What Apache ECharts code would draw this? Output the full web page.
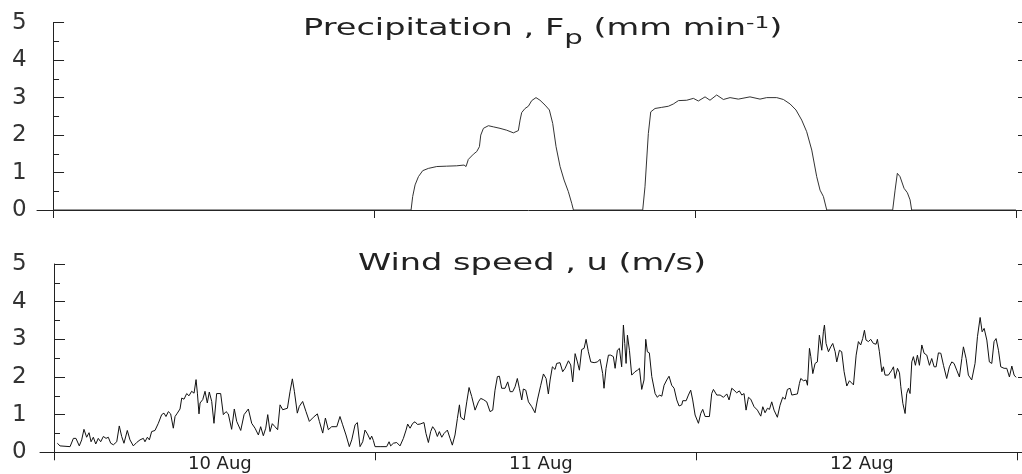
<!DOCTYPE html>
<html><head><meta charset="utf-8">
<script src="https://cdn.jsdelivr.net/npm/echarts@6/dist/echarts.min.js"></script>
<style>html,body{margin:0;padding:0;background:#fff}#c{width:1022px;height:474px}</style>
</head><body><div id="c"></div>
<script>
// ---------- data (hours since 10 Aug 00:00) ----------
const dayLabels = ['10 Aug', '11 Aug', '12 Aug'];
const yTickValues = [0, 1, 2, 3, 4, 5];

const precipHours = [0, 26.77, 26.89, 27.07, 27.32, 27.64, 28.06, 28.69, 29.43, 30.18,
  30.73, 30.88, 31.05, 31.43, 31.68, 31.88, 31.98, 32.18, 32.55, 32.92,
  33.42, 33.92, 34.42, 34.79, 34.92, 35.04, 35.29, 35.54, 35.79, 36.11,
  36.41, 36.79, 37.11, 37.36, 37.61, 37.91, 38.21, 38.53, 38.78, 38.91,
  44.09, 44.26, 44.51, 44.69, 45.01, 45.51, 46.01, 46.38, 46.76, 47.38,
  47.88, 48.25, 48.75, 49.12, 49.62, 50.12, 50.62, 51.24, 52.11, 52.86,
  53.36, 54.11, 54.61, 55.11, 55.55, 55.98, 56.35, 56.73, 57.10, 57.35,
  57.60, 57.85, 62.78, 62.96, 63.13, 63.33, 63.63, 63.88, 64.08, 64.20, 72.0];
const precipRate = [0, 0, 0.36, 0.67, 0.89, 1.05, 1.11, 1.16, 1.17, 1.18,
  1.2, 1.16, 1.35, 1.49, 1.56, 1.69, 2.0, 2.18, 2.25, 2.22,
  2.18, 2.13, 2.06, 2.12, 2.4, 2.6, 2.71, 2.77, 2.92, 3.0,
  2.93, 2.8, 2.67, 2.31, 1.69, 1.16, 0.8, 0.49, 0.18, 0,
  0, 0.62, 2.04, 2.62, 2.71, 2.74, 2.77, 2.83, 2.92, 2.93,
  2.98, 2.91, 3.02, 2.93, 3.07, 2.95, 3.0, 2.96, 3.02, 2.96,
  3.0, 3.0, 2.95, 2.83, 2.67, 2.4, 2.09, 1.6, 0.89, 0.53,
  0.36, 0, 0, 0.53, 0.98, 0.89, 0.58, 0.46, 0.27, 0, 0];

const windHours = [0.25, 0.45, 1.20, 1.45, 1.64, 1.89, 2.07, 2.24, 2.44, 2.62,
  2.77, 2.94, 3.12, 3.31, 3.49, 3.69, 3.89, 4.06, 4.24, 4.44,
  4.69, 4.88, 5.06, 5.23, 5.48, 5.68, 5.93, 6.18, 6.43, 6.68,
  6.80, 6.98, 7.13, 7.30, 7.55, 7.80, 8.05, 8.22, 8.37, 8.55,
  8.72, 8.92, 9.05, 9.22, 9.42, 9.55, 9.72, 9.92, 10.09, 10.29,
  10.47, 10.62, 10.72, 10.84, 10.92, 11.12, 11.29, 11.46, 11.61, 11.79,
  11.96, 12.16, 12.46, 12.66, 12.86, 13.03, 13.28, 13.48, 13.66, 13.96,
  14.21, 14.53, 14.78, 15.03, 15.28, 15.45, 15.65, 15.83, 15.98, 16.15,
  16.32, 16.52, 16.72, 16.90, 17.10, 17.45, 17.65, 17.82, 17.97, 18.19,
  18.34, 18.59, 18.84, 19.09, 19.39, 19.69, 19.84, 20.09, 20.29, 20.51,
  20.76, 21.14, 21.38, 21.58, 21.83, 22.08, 22.26, 22.51, 22.68, 22.88,
  23.08, 23.25, 23.43, 23.63, 23.75, 23.88, 24.00, 24.38, 24.87, 25.05,
  25.17, 25.37, 25.62, 25.87, 26.12, 26.32, 26.44, 26.62, 26.82, 26.99,
  27.17, 27.37, 27.66, 27.81, 27.99, 28.16, 28.31, 28.49, 28.66, 28.81,
  28.99, 29.16, 29.41, 29.61, 29.78, 29.98, 30.16, 30.31, 30.41, 30.66,
  30.86, 31.03, 31.23, 31.48, 31.73, 31.90, 32.10, 32.35, 32.60, 32.80,
  32.97, 33.15, 33.30, 33.47, 33.72, 33.92, 34.10, 34.29, 34.47, 34.64,
  34.79, 34.97, 35.09, 35.27, 35.47, 35.72, 35.96, 36.14, 36.39, 36.59,
  36.79, 36.96, 37.09, 37.26, 37.46, 37.58, 37.83, 38.03, 38.21, 38.46,
  38.63, 38.78, 38.96, 39.13, 39.28, 39.45, 39.63, 39.78, 39.95, 40.13,
  40.38, 40.63, 40.82, 41.02, 41.12, 41.27, 41.45, 41.62, 41.82, 41.95,
  42.12, 42.27, 42.44, 42.57, 42.67, 42.77, 42.87, 43.02, 43.19, 43.44,
  43.62, 43.77, 43.94, 44.11, 44.24, 44.36, 44.51, 44.69, 44.94, 45.11,
  45.26, 45.44, 45.61, 45.81, 45.98, 46.18, 46.36, 46.56, 46.73, 46.93,
  47.01, 47.26, 47.43, 47.60, 47.75, 47.93, 48.18, 48.35, 48.50, 48.68,
  49.00, 49.17, 49.30, 49.55, 49.80, 50.05, 50.30, 50.47, 50.67, 50.84,
  51.04, 51.24, 51.42, 51.59, 51.74, 51.92, 52.09, 52.34, 52.59, 52.84,
  52.99, 53.16, 53.34, 53.49, 53.66, 53.83, 54.08, 54.28, 54.48, 54.66,
  54.83, 55.03, 55.16, 55.58, 55.73, 55.83, 56.03, 56.23, 56.33, 56.48,
  56.58, 56.73, 56.90, 57.07, 57.22, 57.40, 57.52, 57.60, 57.72, 57.90,
  58.07, 58.22, 58.40, 58.52, 58.72, 58.89, 59.07, 59.27, 59.47, 59.77,
  59.97, 60.14, 60.31, 60.46, 60.59, 60.71, 60.89, 61.06, 61.26, 61.46,
  61.56, 61.71, 61.89, 62.01, 62.13, 62.38, 62.63, 62.76, 62.88, 63.06,
  63.21, 63.31, 63.46, 63.63, 63.75, 63.88, 64.00, 64.13, 64.25, 64.40,
  64.55, 64.70, 64.88, 65.05, 65.25, 65.45, 65.62, 65.80, 65.95, 66.12,
  66.30, 66.50, 66.74, 66.94, 67.12, 67.29, 67.49, 67.69, 67.87, 67.99,
  68.19, 68.36, 68.61, 68.86, 69.04, 69.24, 69.39, 69.54, 69.74, 69.93,
  70.11, 70.28, 70.43, 70.61, 70.78, 71.03, 71.23, 71.43, 71.61, 71.78, 71.93];
const windSpeed = [0.24, 0.17, 0.15, 0.37, 0.37, 0.17, 0.33, 0.61, 0.4, 0.52,
  0.28, 0.4, 0.22, 0.37, 0.28, 0.42, 0.37, 0.4, 0.24, 0.2,
  0.28, 0.7, 0.42, 0.24, 0.58, 0.33, 0.17, 0.26, 0.33, 0.37,
  0.28, 0.4, 0.33, 0.55, 0.58, 0.77, 1.0, 1.04, 0.95, 1.08,
  1.02, 0.64, 0.95, 1.04, 1.15, 1.44, 1.41, 1.56, 1.5, 1.62,
  1.57, 1.93, 1.57, 1.02, 1.31, 1.4, 1.62, 1.31, 1.6, 1.35,
  0.77, 1.56, 1.56, 1.0, 1.08, 1.02, 0.61, 1.15, 0.82, 0.58,
  1.0, 1.15, 0.77, 0.64, 0.46, 0.68, 0.44, 0.64, 1.0, 0.55,
  0.76, 0.68, 0.6, 1.26, 1.13, 1.17, 1.62, 1.95, 1.62, 1.04,
  1.22, 1.35, 1.08, 0.82, 0.93, 1.02, 0.82, 0.51, 0.91, 0.6,
  0.68, 0.68, 0.95, 0.73, 0.46, 0.15, 0.33, 0.73, 0.79, 0.15,
  0.28, 0.59, 0.49, 0.34, 0.43, 0.31, 0.15, 0.15, 0.15, 0.28,
  0.17, 0.24, 0.26, 0.17, 0.37, 0.59, 0.75, 0.64, 0.77, 0.81,
  0.74, 0.75, 0.79, 0.5, 0.26, 0.55, 0.68, 0.59, 0.42, 0.55,
  0.4, 0.5, 0.59, 0.37, 0.19, 0.46, 0.9, 1.26, 0.93, 0.86,
  1.34, 1.72, 1.48, 1.12, 1.34, 1.43, 1.4, 1.34, 1.08, 1.12,
  1.65, 2.01, 2.02, 1.7, 1.7, 1.87, 1.61, 1.61, 1.74, 1.96,
  1.7, 1.39, 1.68, 1.65, 1.34, 1.21, 1.05, 1.39, 1.78, 2.08,
  1.96, 1.55, 1.92, 2.27, 2.2, 2.36, 2.38, 2.14, 2.23, 2.43,
  2.32, 1.87, 2.62, 2.4, 2.18, 2.73, 2.76, 3.0, 2.67, 2.4,
  2.38, 2.4, 2.47, 2.09, 1.7, 2.23, 2.58, 2.58, 2.54, 2.23,
  2.71, 2.76, 2.27, 3.38, 2.89, 2.36, 3.11, 2.71, 2.05, 2.14,
  2.18, 2.23, 1.67, 1.92, 3.0, 2.67, 2.64, 2.01, 1.56, 1.46,
  1.52, 1.49, 1.78, 1.92, 2.02, 1.78, 1.7, 1.39, 1.23, 1.26,
  1.37, 1.37, 1.52, 1.65, 1.39, 0.99, 0.77, 1.03, 1.14, 0.95,
  0.95, 1.56, 1.67, 1.52, 1.52, 1.46, 1.55, 1.39, 1.7, 1.65,
  1.58, 1.63, 1.52, 1.56, 1.12, 1.46, 1.41, 1.21, 1.12, 0.96,
  1.21, 1.05, 1.17, 1.14, 1.34, 1.12, 0.93, 1.25, 1.46, 1.41,
  1.67, 1.7, 1.52, 1.55, 1.83, 1.96, 1.9, 1.92, 1.78, 2.76,
  2.54, 2.09, 2.36, 2.4, 3.11, 2.71, 3.2, 3.38, 2.89, 2.67,
  2.8, 2.89, 2.67, 2.4, 2.71, 2.67, 2.14, 1.76, 1.9, 1.79,
  2.58, 2.94, 2.85, 3.02, 3.24, 2.98, 2.94, 3.0, 2.89, 2.87,
  3.0, 2.67, 2.14, 2.27, 2.05, 2.05, 2.18, 2.27, 1.96, 2.23,
  2.11, 1.74, 1.3, 1.03, 1.56, 1.7, 1.56, 2.4, 2.54, 2.31,
  2.58, 2.31, 2.85, 2.63, 2.58, 2.31, 2.49, 2.27, 2.27, 2.64,
  2.63, 2.31, 1.96, 2.27, 2.4, 2.36, 2.18, 2.0, 2.49, 2.8,
  2.49, 2.05, 1.92, 2.36, 3.07, 3.58, 3.2, 3.29, 2.98, 2.4,
  2.36, 2.94, 3.02, 2.71, 2.27, 2.23, 2.23, 2.0, 2.29, 2.05, 1.99];

// ---------- chart ----------
const FONT = "'DejaVu Sans', 'Liberation Sans', sans-serif";
const INK = '#222';
const dayTicks = Array.from({length: dayLabels.length + 1}, (_, i) => i * 24);
const dayLabelPos = dayLabels.map((_, i) => i * 24 + 12.4);

function xAxisCfg(gridIndex, min, max, withLabels) {
  return {
    gridIndex, type: 'value', min, max,
    axisLine: {show: true, onZero: false, lineStyle: {color: INK, width: 1}},
    axisTick: {show: true, customValues: dayTicks, length: 8, lineStyle: {color: INK, width: 1}},
    axisLabel: withLabels ? {
      show: true, customValues: dayLabelPos, margin: 3,
      fontFamily: FONT, fontSize: 18, color: INK,
      formatter: v => dayLabels[Math.round((v - 12) / 24)]
    } : {show: false},
    splitLine: {show: false}
  };
}
function yLeft(gridIndex, margin) {
  return {
    gridIndex, type: 'value', min: yTickValues[0], max: yTickValues[yTickValues.length - 1], interval: 1,
    axisLine: {show: true, lineStyle: {color: INK, width: 1}},
    axisTick: {show: true, inside: true, length: 11, lineStyle: {color: INK, width: 1}},
    minorTick: {show: true, splitNumber: 2, length: 6, lineStyle: {color: INK, width: 1}},
    axisLabel: {show: true, align: 'left', margin, fontFamily: FONT, fontSize: 23, color: '#333'},
    splitLine: {show: false}, minorSplitLine: {show: false}
  };
}
function yRight(gridIndex) {
  return {
    gridIndex, type: 'value', position: 'right', offset: 2,
    min: yTickValues[0], max: yTickValues[yTickValues.length - 1], interval: 1,
    axisLine: {show: false},
    axisTick: {show: true, inside: true, length: 4, lineStyle: {color: INK, width: 1}},
    axisLabel: {show: false}, splitLine: {show: false}
  };
}

const chart = echarts.init(document.getElementById('c'), null, {renderer: 'canvas'});
chart.setOption({
  animation: false,
  backgroundColor: '#fff',
  grid: [
    {left: 37, right: 2, top: 22.7, bottom: 264},
    {left: 40, right: 2, top: 264, bottom: 21.7}
  ],
  xAxis: [
    xAxisCfg(0, -1.2, 72.30, false),
    xAxisCfg(1, -1.047, 72.22, true)
  ],
  yAxis: [yLeft(0, 25), yRight(0), yLeft(1, 28), yRight(1)],
  graphic: {elements: [
    {
      type: 'text', x: 303, y: 9.5, scaleX: 1.46, silent: true,
      style: {
        text: '{m|Precipitation , F}{sub|p}{m| (mm min}{sup|-1}{m|)}',
        fill: INK, align: 'left', verticalAlign: 'top',
        rich: {
          m: {fontFamily: FONT, fontSize: 23, lineHeight: 40, fill: INK},
          sub: {fontFamily: FONT, fontSize: 20, lineHeight: 20, padding: [18, 0, 0, 0], fill: INK},
          sup: {fontFamily: FONT, fontSize: 16, lineHeight: 16, padding: [0, 0, 11, 0], fill: INK}
        }
      }
    },
    {
      type: 'text', x: 358, y: 264, scaleX: 1.46, silent: true,
      style: {
        text: 'Wind speed , u (m/s)', fill: INK, align: 'left', verticalAlign: 'middle',
        fontFamily: FONT, fontSize: 23
      }
    }
  ]},
  series: [
    {
      type: 'line', xAxisIndex: 0, yAxisIndex: 0, showSymbol: false, symbol: 'none',
      data: precipHours.map((h, i) => [h, precipRate[i]]),
      lineStyle: {color: '#333', width: 1}
    },
    {
      type: 'line', xAxisIndex: 1, yAxisIndex: 2, showSymbol: false, symbol: 'none',
      data: windHours.map((h, i) => [h, windSpeed[i]]),
      lineStyle: {color: '#111', width: 1}
    }
  ]
});
</script></body></html>
